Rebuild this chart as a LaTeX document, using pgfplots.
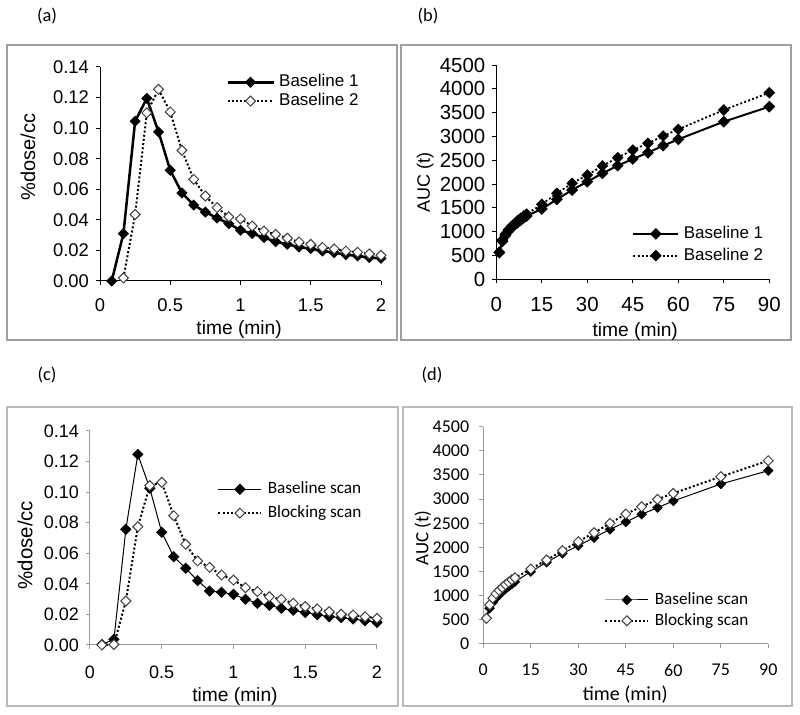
\documentclass[border=0pt]{standalone}
\usepackage{pgfplots}
\pgfplotsset{compat=1.18}
\usepackage{fontspec}
\setmainfont{Liberation Sans}
\newfontfamily\calibri{Carlito}

\pgfplotsset{
  excel/.style={
    scale only axis, axis lines*=left, tick align=outside,
    major tick length=2pt, clip=false,
    /pgf/number format/assume math mode=true,
    every tick/.style={black, line width=0.5pt},
    legend cell align=left,
  },
  filled/.style={black, mark=square*, mark options={solid, fill=black, draw=black, rotate=45, scale=1}},
  hollow/.style={black, mark=square*, mark options={solid, fill=white, draw=black!75, line width=0.5pt, rotate=45}},
  dotline/.style={dash pattern=on 1pt off 1.1pt},
}
\newcommand{\legimg}[1]{\draw[mark repeat=2,mark phase=2] plot coordinates {(0pt,0pt) (#1/2,0pt) (#1,0pt)};}

\begin{document}
\begin{tikzpicture}
\path[use as bounding box] (0,0) rectangle (400pt,-357.5pt);
% frames
\draw[gray!75, line width=0.7pt] (3.5pt,-22.5pt) rectangle (198.5pt,-170pt);
\draw[gray!75, line width=0.7pt] (200.5pt,-22.5pt) rectangle (395.5pt,-170pt);
\draw[gray!55, line width=0.7pt] (3.5pt,-203.5pt) rectangle (199pt,-353pt);
\draw[gray!55, line width=0.7pt] (201.5pt,-203.5pt) rectangle (396pt,-353pt);
% panel labels
\node[font=\calibri\fontsize{9.2}{10}\selectfont] at (23.5pt,-8pt) {(a)};
\node[font=\calibri\fontsize{9.2}{10}\selectfont] at (214pt,-8pt) {(b)};
\node[font=\calibri\fontsize{9.2}{10}\selectfont] at (23.5pt,-187.5pt) {(c)};
\node[font=\calibri\fontsize{9.2}{10}\selectfont] at (216pt,-187.5pt) {(d)};

% ---------------- (a)
\begin{axis}[excel, at={(50pt,-140.5pt)}, anchor=south west,
  width=140.5pt, height=107pt,
  xmin=0, xmax=2, ymin=0, ymax=0.14,
  xtick={0,0.5,1,1.5,2}, ytick={0,0.02,0.04,0.06,0.08,0.1,0.12,0.14},
  yticklabel style={/pgf/number format/.cd, fixed, fixed zerofill, precision=2},
  ticklabel style={font=\fontsize{9.2}{10}\selectfont},
  xticklabel style={yshift=-3.5pt},
  axis line style={black, line width=0.5pt},
  xlabel={time (min)}, ylabel={\%dose/cc},
  xlabel style={font=\fontsize{9.6}{10}\selectfont, at={(axis description cs:0.495,-0.228)}, anchor=center},
  ylabel style={font=\fontsize{10}{11}\selectfont, at={(axis description cs:-0.256,0.58)}, anchor=center},
  legend image code/.code={\legimg{23pt}},
  legend style={draw=none, fill=none, at={(axis description cs:0.448,0.972)}, anchor=north west,
    font=\fontsize{8.5}{9}\selectfont, inner sep=0pt, row sep=0.5pt,
    /tikz/every odd column/.append style={column sep=1.5pt},
    nodes={inner sep=0.7pt, text height=6pt, text depth=1.5pt}},
]
\addplot[filled, line width=1.25pt, mark size=1.35pt] coordinates {
(0.0833,0.000)(0.1667,0.031)(0.25,0.1045)(0.3333,0.1195)(0.4167,0.0975)(0.5,0.0724)(0.5833,0.0576)(0.6667,0.0497)(0.75,0.0451)(0.8333,0.0412)(0.9167,0.0375)(1.0,0.0332)(1.0833,0.031)(1.1667,0.0284)(1.25,0.0257)(1.3333,0.024)(1.4167,0.0222)(1.5,0.0212)(1.5833,0.0196)(1.6667,0.0185)(1.75,0.0172)(1.8333,0.0164)(1.9167,0.0153)(2.0,0.0148)};
\addlegendentry{Baseline 1}
\addplot[hollow, dotline, line width=1pt, mark size=1.75pt] coordinates {
(0.1667,0.002)(0.25,0.0435)(0.3333,0.110)(0.4167,0.1254)(0.5,0.1106)(0.5833,0.0855)(0.6667,0.0665)(0.75,0.0556)(0.8333,0.048)(0.9167,0.042)(1.0,0.0406)(1.0833,0.036)(1.1667,0.0327)(1.25,0.0305)(1.3333,0.028)(1.4167,0.0255)(1.5,0.024)(1.5833,0.022)(1.6667,0.021)(1.75,0.0196)(1.8333,0.0188)(1.9167,0.0177)(2.0,0.0168)};
\addlegendentry{Baseline 2}
\end{axis}

% ---------------- (b)
\begin{axis}[excel, at={(248.15pt,-139.65pt)}, anchor=south west,
  width=136.5pt, height=107.15pt,
  xmin=0, xmax=90, ymin=0, ymax=4500,
  xtick={0,15,30,45,60,75,90}, ytick={0,500,...,4500},
  yticklabel style={/pgf/number format/.cd, set thousands separator={}},
  ticklabel style={font=\fontsize{10.2}{11}\selectfont},
  xticklabel style={yshift=-3.5pt},
  axis line style={black, line width=0.5pt},
  xlabel={time (min)}, ylabel={AUC (t)},
  xlabel style={font=\fontsize{9.6}{10}\selectfont, at={(axis description cs:0.509,-0.245)}, anchor=center},
  ylabel style={font=\fontsize{9}{10}\selectfont, at={(axis description cs:-0.26,0.453)}, anchor=center},
  legend image code/.code={\legimg{22.5pt}},
  legend style={draw=none, fill=none, at={(axis description cs:0.497,0.067)}, anchor=south west,
    font=\fontsize{8.5}{9}\selectfont, inner sep=0pt, row sep=2pt,
    /tikz/every odd column/.append style={column sep=1.5pt},
    nodes={inner sep=0.7pt, text height=6pt, text depth=1.5pt}},
]
\addplot[filled, line width=1pt, mark size=1.6pt] coordinates {
(1,560)(2,800)(3,920)(4,1010)(5,1080)(6,1140)(7,1190)(8,1240)(9,1290)(10,1330)
(15,1477)(20,1680)(25,1876)(30,2050)(35,2225)(40,2386)(45,2526)(50,2659)(55,2806)(60,2939)(75,3310)(90,3625)};
\addlegendentry{Baseline 1}
\addplot[filled, dotline, line width=0.9pt, mark size=1.6pt] coordinates {
(1,570)(2,830)(3,950)(4,1040)(5,1110)(6,1170)(7,1230)(8,1280)(9,1330)(10,1370)
(15,1575)(20,1806)(25,2016)(30,2190)(35,2380)(40,2554)(45,2715)(50,2855)(55,3009)(60,3149)(75,3555)(90,3919)};
\addlegendentry{Baseline 2}
\end{axis}

% ---------------- (c)
\begin{axis}[excel, at={(45pt,-322.5pt)}, anchor=south west,
  width=143.5pt, height=107pt,
  xmin=0, xmax=2, ymin=0, ymax=0.14,
  xtick={0,0.5,1,1.5,2}, ytick={0,0.02,0.04,0.06,0.08,0.1,0.12,0.14},
  yticklabel style={/pgf/number format/.cd, fixed, fixed zerofill, precision=2},
  ticklabel style={font=\fontsize{9}{10}\selectfont},
  xticklabel style={yshift=-5pt},
  axis line style={gray!80, line width=0.5pt},
  every tick/.style={gray!80, line width=0.5pt},
  xlabel={time (min)}, ylabel={\%dose/cc},
  xlabel style={font=\fontsize{9.6}{10}\selectfont, at={(axis description cs:0.505,-0.242)}, anchor=center},
  ylabel style={font=\fontsize{10.2}{11}\selectfont, at={(axis description cs:-0.226,0.467)}, anchor=center},
  legend image code/.code={\legimg{21.5pt}},
  legend style={draw=none, fill=none, at={(axis description cs:0.4425,0.771)}, anchor=north west,
    font=\calibri\fontsize{8.6}{9}\selectfont, inner sep=0pt, row sep=3pt,
    /tikz/every odd column/.append style={column sep=2pt},
    nodes={inner sep=0.7pt, text height=6pt, text depth=1.5pt}},
]
\addplot[filled, line width=0.5pt, mark size=1.75pt] coordinates {
(0.0833,0.0003)(0.1667,0.0037)(0.25,0.0757)(0.3333,0.1247)(0.4167,0.1025)(0.5,0.0737)(0.5833,0.0578)(0.6667,0.0502)(0.75,0.0421)(0.8333,0.0353)(0.9167,0.0345)(1.0,0.0331)(1.0833,0.0299)(1.1667,0.0273)(1.25,0.026)(1.3333,0.024)(1.4167,0.0227)(1.5,0.0212)(1.5833,0.0198)(1.6667,0.0185)(1.75,0.0179)(1.8333,0.017)(1.9167,0.0159)(2.0,0.0148)};
\addlegendentry{Baseline scan}
\addplot[hollow, dotline, line width=1pt, mark size=1.75pt] coordinates {
(0.0833,0)(0.1667,0.0003)(0.25,0.0288)(0.3333,0.0774)(0.4167,0.1043)(0.5,0.1064)(0.5833,0.0846)(0.6667,0.0659)(0.75,0.055)(0.8333,0.0508)(0.9167,0.0458)(1.0,0.0425)(1.0833,0.0375)(1.1667,0.0349)(1.25,0.0316)(1.3333,0.0299)(1.4167,0.0273)(1.5,0.0251)(1.5833,0.0236)(1.6667,0.0218)(1.75,0.0201)(1.8333,0.0196)(1.9167,0.0185)(2.0,0.0175)};
\addlegendentry{Blocking scan}
\end{axis}

% ---------------- (d)
\begin{axis}[excel, at={(241.65pt,-322pt)}, anchor=south west,
  width=142.5pt, height=108.65pt,
  xmin=0, xmax=90, ymin=0, ymax=4500,
  xtick={0,15,30,45,60,75,90}, ytick={0,500,...,4500},
  yticklabel style={xshift=-1.5pt, /pgf/number format/.cd, set thousands separator={}},
  ticklabel style={font=\calibri\fontsize{9}{10}\selectfont},
  xticklabel style={yshift=-4.5pt},
  axis line style={gray!80, line width=0.5pt},
  every tick/.style={gray!80, line width=0.5pt},
  xlabel={time (min)}, ylabel={AUC (t)},
  xlabel style={font=\calibri\fontsize{10}{11}\selectfont, at={(axis description cs:0.498,-0.232)}, anchor=center},
  ylabel style={font=\calibri\fontsize{9.4}{10}\selectfont, at={(axis description cs:-0.212,0.488)}, anchor=center},
  legend image code/.code={\legimg{21.5pt}},
  legend style={draw=none, fill=none, at={(axis description cs:0.4235,0.064)}, anchor=south west,
    font=\calibri\fontsize{8.6}{9}\selectfont, inner sep=0pt, row sep=1.5pt,
    /tikz/every odd column/.append style={column sep=2pt},
    nodes={inner sep=0.7pt, text height=6pt, text depth=1.5pt}},
]
\addplot[filled, line width=0.5pt, mark size=1.6pt] coordinates {
(1,531)(2,740)(3,860)(4,950)(5,1020)(6,1080)(7,1140)(8,1190)(9,1240)(10,1290)
(15,1498)(20,1691)(25,1877)(30,2036)(35,2202)(40,2374)(45,2526)(50,2685)(55,2823)(60,2961)(75,3313)(90,3589)};
\addlegendentry{Baseline scan}
\addplot[hollow, dotline, line width=1pt, mark size=1.75pt] coordinates {
(1,531)(2,810)(3,950)(4,1040)(5,1110)(6,1170)(7,1230)(8,1280)(9,1330)(10,1370)
(15,1553)(20,1739)(25,1933)(30,2119)(35,2305)(40,2498)(45,2692)(50,2844)(55,2996)(60,3120)(75,3465)(90,3796)};
\addlegendentry{Blocking scan}
\end{axis}
\end{tikzpicture}
\end{document}
